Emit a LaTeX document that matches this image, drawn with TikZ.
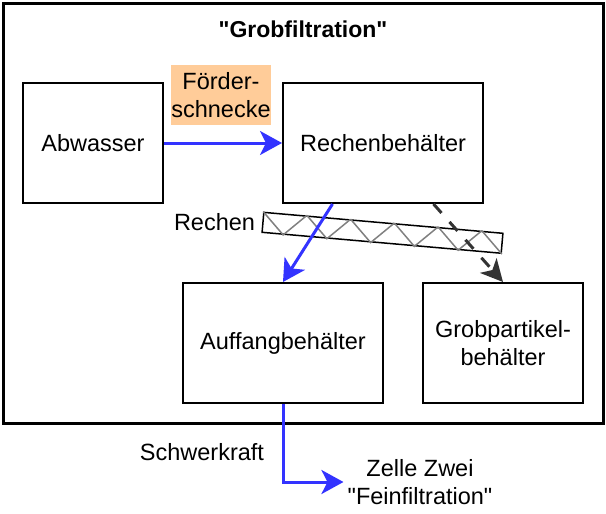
\documentclass[tikz,border=0pt]{standalone}
\usepackage{fontspec}
\setmainfont{Liberation Sans}[Ligatures=TeXOff]
\definecolor{flowblue}{RGB}{51, 51, 255}
\definecolor{screworange}{RGB}{255, 204, 153}
\definecolor{rakegrey}{RGB}{51, 51, 51}
\usetikzlibrary{arrows.meta, positioning, calc}

\begin{document}
\begin{tikzpicture}[x=1pt, y=-1pt, font=\fontsize{23.5}{28}\selectfont,
  tank/.style={draw, line width=2pt, minimum width=#1, minimum height=120pt, inner sep=0pt, align=center},
  flow/.style={draw=flowblue, line width=3pt, -{Stealth[length=22pt, width=24pt, inset=6pt]}},
  sieved/.style={draw=rakegrey, line width=3pt, dash pattern=on 12pt off 12pt, -{Stealth[length=22pt, width=22pt, inset=6pt]}}]
  \useasboundingbox (0,0) rectangle (606,514);

  % cell one
  \node[draw, line width=3pt, minimum width=600pt, minimum height=420pt] (cell) at (303,213) {};
  \node[font=\fontsize{23}{28}\selectfont\bfseries] (title) at (303,29) {"Grobfiltration"};

  \node[tank=140pt] (abwasser) at (93,143) {Abwasser};
  \node[tank=200pt] (rechenb) at (383,143) {Rechenbehälter};
  \node[tank=200pt] (auffang) at (283,343) {Auffangbehälter};
  \node[tank=160pt] (grob) at (503,343) {Grobpartikel-\\behälter};
  \node[fill=screworange, minimum width=100pt, minimum height=60pt, inner sep=0pt, align=center] (schnecke) at (221,95) {Förder-\\schnecke};

  % rake
  \node[draw, line width=1.5pt, minimum width=240pt, minimum height=20pt, inner sep=0pt, rotate=-5] (rechen) at (382.5,232.8) {};
  \foreach \i in {0,2,...,10}
    \draw[gray, line width=1.5pt] ($(rechen.north west)!{\i/11}!(rechen.north east)$) -- ($(rechen.south west)!{(\i+1)/11}!(rechen.south east)$)
      \ifnum\i<10 -- ($(rechen.north west)!{(\i+2)/11}!(rechen.north east)$)\fi;
  \node[left=7pt of rechen.west, inner sep=0pt] (rechenlabel) {Rechen};

  \draw[flow] (abwasser.east) -- (rechenb.west);
  \draw[flow] ($(rechenb.south west)!0.25!(rechenb.south east)$) -- (auffang.north);
  \draw[sieved] ($(rechenb.south west)!0.75!(rechenb.south east)$) -- (grob.north);

  % to cell two
  \node[align=center, inner xsep=4pt, inner ysep=0pt] (zelle) at (420,482) {Zelle Zwei\\"Feinfiltration"};
  \node (schwerkraft) at (202,452) {Schwerkraft};
  \draw[flow] (auffang.south) |- (zelle.west);
\end{tikzpicture}
\end{document}
